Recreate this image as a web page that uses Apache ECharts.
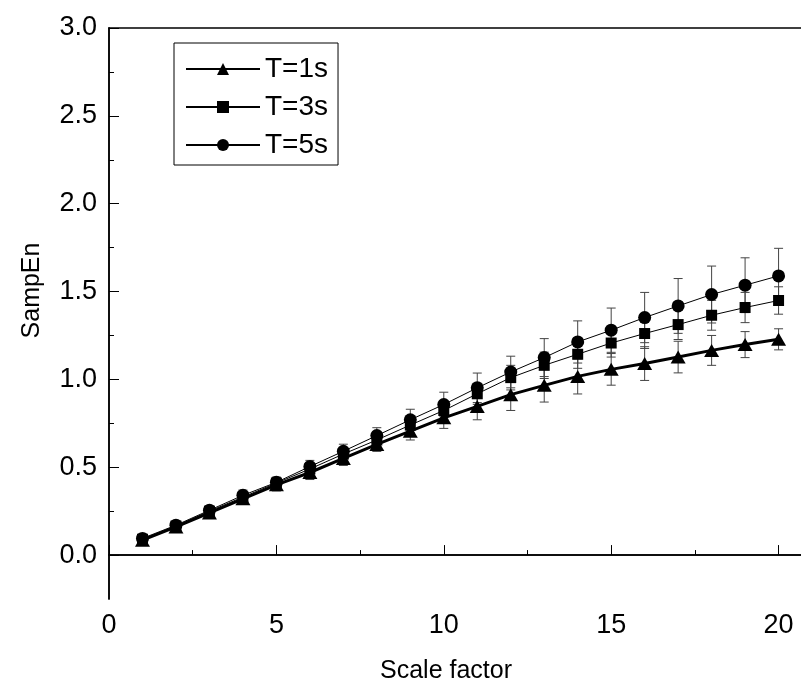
<!DOCTYPE html>
<html><head><meta charset="utf-8">
<script src="https://cdn.jsdelivr.net/npm/echarts@6/dist/echarts.min.js"></script>
<style>html,body{margin:0;padding:0;background:#fff}#c{width:801px;height:690px}</style>
</head><body><div id="c"></div>
<script>
const scaleFactors = [1,2,3,4,5,6,7,8,9,10,11,12,13,14,15,16,17,18,19,20];
const seriesNames = ['T=1s','T=3s','T=5s'];
const t1Mean = [0.085,0.160,0.240,0.320,0.400,0.470,0.550,0.630,0.705,0.781,0.846,0.913,0.966,1.017,1.057,1.090,1.127,1.165,1.198,1.228];
const t1Err  = [0.030,0.030,0.030,0.030,0.035,0.040,0.040,0.040,0.050,0.060,0.076,0.090,0.095,0.100,0.090,0.096,0.090,0.085,0.074,0.060];
const t3Mean = [0.090,0.165,0.250,0.330,0.410,0.490,0.575,0.655,0.740,0.823,0.918,1.010,1.080,1.143,1.207,1.261,1.312,1.365,1.409,1.449];
const t3Err  = [0.020,0.020,0.020,0.025,0.030,0.030,0.035,0.040,0.045,0.050,0.060,0.070,0.075,0.080,0.080,0.085,0.085,0.085,0.086,0.078];
const t5Mean = [0.095,0.170,0.255,0.340,0.414,0.504,0.591,0.680,0.770,0.857,0.952,1.042,1.124,1.213,1.280,1.352,1.418,1.483,1.536,1.589];
const t5Err  = [0.020,0.020,0.025,0.030,0.030,0.035,0.040,0.045,0.060,0.070,0.084,0.090,0.108,0.120,0.126,0.143,0.156,0.162,0.156,0.157];
const xTickLabels = [0,5,10,15,20];
const xMinorTicks = [2.5,7.5,12.5,17.5];
const yTickLabels = [0.0,0.5,1.0,1.5,2.0,2.5,3.0];
const yMinorTicks = [0.25,0.75,1.25,1.75,2.25,2.75];

const FONT = 'Liberation Sans, Arial, sans-serif';
const chart = echarts.init(document.getElementById('c'), null, {renderer:'canvas'});

function errSeries(mean, err){
  return {
    type:'custom', xAxisIndex:0, yAxisIndex:0, z:1, silent:true,
    data: scaleFactors.map((x,i)=>[x, mean[i]-err[i], mean[i]+err[i]]),
    renderItem:(params, api)=>{
      const x = api.value(0);
      const lo = api.coord([x, api.value(1)]);
      const hi = api.coord([x, api.value(2)]);
      const w = 4.5;
      const st = {stroke:'#444', lineWidth:1};
      return {type:'group', children:[
        {type:'line', shape:{x1:lo[0],y1:lo[1],x2:hi[0],y2:hi[1]}, style:st},
        {type:'line', shape:{x1:hi[0]-w,y1:hi[1],x2:hi[0]+w,y2:hi[1]}, style:st},
        {type:'line', shape:{x1:lo[0]-w,y1:lo[1],x2:lo[0]+w,y2:lo[1]}, style:st}
      ]};
    }
  };
}
function lineSeries(name, mean, symbol, size, width){
  return {
    name, type:'line', xAxisIndex:0, yAxisIndex:0, z:3,
    data: scaleFactors.map((x,i)=>[x, mean[i]]),
    symbol, symbolSize:size, showSymbol:true,
    lineStyle:{color:'#000', width}, itemStyle:{color:'#000'},
    emphasis:{disabled:true}, animation:false
  };
}
const axisLine = {show:true, lineStyle:{color:'#000', width:1.5}};
const XMIN = 0, XMAX = 20.67, YMIN = -0.25, YMAX = 3;

const option = {
  animation:false,
  backgroundColor:'#fff',
  grid:{left:109, top:28, right:0, bottom:91, containLabel:false},
  legend:{
    data:seriesNames, orient:'vertical', left:174, top:43,
    borderColor:'#000', borderWidth:1, padding:[12,10,6,11],
    itemWidth:74, itemHeight:15, itemGap:10,
    textStyle:{fontSize:28, fontFamily:FONT, color:'#000'}
  },
  xAxis:[
    {type:'value', min:XMIN, max:XMAX, position:'bottom',
     axisLine, splitLine:{show:false},
     axisTick:{show:true, inside:true, length:10, customValues:xTickLabels, lineStyle:{color:'#000', width:1}},
     axisLabel:{fontSize:27, fontFamily:FONT, color:'#000', margin:13, customValues:xTickLabels,
       formatter:v=>String(v)},
     name:'Scale factor', nameLocation:'middle', nameGap:60,
     nameTextStyle:{fontSize:25, fontFamily:FONT, color:'#000', padding:[0,18,0,0]}},
    {type:'value', min:XMIN, max:XMAX, position:'bottom',
     axisLine, splitLine:{show:false}, axisLabel:{show:false},
     axisTick:{show:true, inside:true, length:5, customValues:xMinorTicks, lineStyle:{color:'#000', width:1}}},
    {type:'value', min:XMIN, max:XMAX, position:'top',
     axisLine, splitLine:{show:false}, axisLabel:{show:false}, axisTick:{show:false}}
  ],
  yAxis:[
    {type:'value', min:YMIN, max:YMAX, position:'left',
     axisLine, splitLine:{show:false},
     axisTick:{show:true, inside:true, length:10, customValues:yTickLabels, lineStyle:{color:'#000', width:1}},
     axisLabel:{fontSize:27, fontFamily:FONT, color:'#000', margin:12, customValues:yTickLabels,
       formatter:v=>Number(v).toFixed(1)},
     name:'SampEn', nameLocation:'middle', nameGap:64,
     nameTextStyle:{fontSize:25, fontFamily:FONT, color:'#000', padding:[0,0,0,46]}},
    {type:'value', min:YMIN, max:YMAX, position:'left',
     axisLine, splitLine:{show:false}, axisLabel:{show:false},
     axisTick:{show:true, inside:true, length:5, customValues:yMinorTicks, lineStyle:{color:'#000', width:1}}}
  ],
  series:[
    errSeries(t1Mean, t1Err), errSeries(t3Mean, t3Err), errSeries(t5Mean, t5Err),
    lineSeries('T=1s', t1Mean, 'triangle', [15,13], 3),
    lineSeries('T=3s', t3Mean, 'rect', 11, 1),
    lineSeries('T=5s', t5Mean, 'circle', 13, 1)
  ]
};
chart.setOption(option);
</script></body></html>
